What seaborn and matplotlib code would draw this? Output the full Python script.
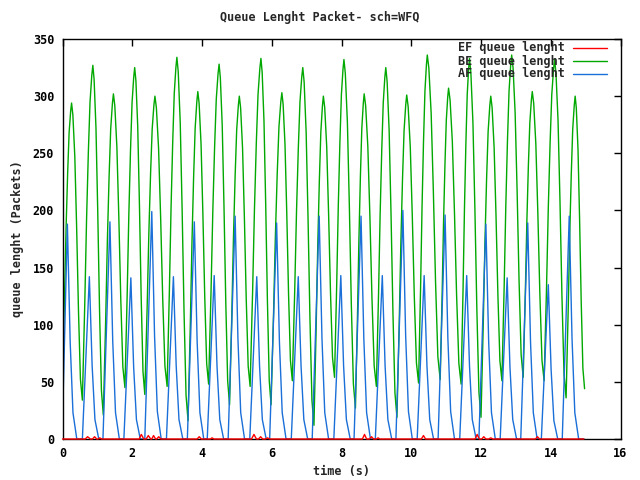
import numpy as np
import pandas as pd
import matplotlib
matplotlib.use("Agg")
import matplotlib.pyplot as plt
import seaborn as sns

# ---------------- data ----------------
title = "Queue Lenght Packet- sch=WFQ"
x_label = "time (s)"
y_label = "queue lenght (Packets)"
x_ticks = [0, 2, 4, 6, 8, 10, 12, 14, 16]
y_ticks = [0, 50, 100, 150, 200, 250, 300, 350]

# EF queue (red): small bumps near zero
ef_t = [0.0, 0.65, 0.72, 0.80, 0.86, 0.92, 0.98, 1.02, 1.07, 1.12, 2.20, 2.26, 2.33, 2.40, 2.46,
        2.53, 2.56, 2.61, 2.67, 2.70, 2.76, 2.82, 3.86, 3.92, 3.98, 4.24, 4.29, 4.34, 5.42, 5.49,
        5.56, 5.62, 5.68, 5.74, 5.82, 5.88, 5.94, 8.60, 8.66, 8.72, 8.80, 8.86, 8.92, 9.00, 9.05,
        9.10, 10.29, 10.35, 10.41, 11.83, 11.89, 11.95, 12.02, 12.08, 12.14, 12.22, 12.28, 12.34,
        13.56, 13.62, 13.68, 14.95]
ef_v = [0, 0, 2, 0, 0, 2, 0, 0, 1, 0, 0, 4, 0, 0, 3,
        0, 0, 3, 0, 0, 2, 0, 0, 2, 0, 0, 1, 0, 0, 4,
        0, 0, 2, 0, 0, 1, 0, 0, 4, 0, 0, 2, 0, 0, 1,
        0, 0, 3, 0, 0, 4, 0, 0, 2, 0, 0, 1, 0,
        0, 2, 0, 0]

# BE queue (green): start, alternating peaks / troughs, end
be_start = (0.0, 60)
be_peak_t = [0.26, 0.87, 1.46, 2.07, 2.65, 3.28, 3.88, 4.49, 5.07, 5.69, 6.29, 6.89, 7.48,
             8.07, 8.65, 9.27, 9.87, 10.46, 11.07, 11.67, 12.28, 12.88, 13.47, 14.11, 14.70]
be_peak_v = [294, 327, 302, 325, 300, 334, 304, 328, 300, 333, 303, 325, 300,
             332, 302, 325, 301, 336, 307, 333, 300, 336, 304, 332, 300]
be_trough_t = [0.57, 1.17, 1.79, 2.36, 3.00, 3.60, 4.19, 4.79, 5.38, 5.98, 6.59, 7.21,
               7.80, 8.40, 9.00, 9.59, 10.21, 10.83, 11.43, 12.00, 12.60, 13.21, 13.81, 14.44]
be_trough_v = [34, 21, 45, 39, 46, 16, 48, 30, 46, 30, 51, 12,
               54, 27, 46, 19, 49, 52, 48, 19, 51, 54, 51, 36]
be_end = (14.97, 44)
# shape of one rise (trough -> peak) and one fall (peak -> trough), read off a cycle:
# fraction of the segment's duration, fraction of the segment's height covered
be_rise_tf = [0.23, 0.40, 0.57, 0.73, 0.90]
be_rise_vf = [0.29, 0.54, 0.74, 0.89, 0.97]
be_fall_tf = [0.12, 0.30, 0.47, 0.64, 0.82]
be_fall_vf = [0.04, 0.18, 0.42, 0.70, 0.93]

# AF queue (blue): per cycle rise start, peak, two decay points, back to 0
af_rise_t = [0.00, 0.57, 1.16, 1.76, 2.36, 2.98, 3.58, 4.15, 4.75, 5.37, 5.94, 6.56, 7.16,
             7.78, 8.36, 8.97, 9.56, 10.17, 10.77, 11.39, 11.94, 12.55, 13.14, 13.73, 14.33]
af_rise_v = [15, 0, 0, 0, 0, 0, 0, 0, 0, 0, 0, 0, 0,
             0, 0, 0, 0, 0, 0, 0, 0, 0, 0, 0, 0]
af_peak_t = [0.14, 0.77, 1.36, 1.96, 2.56, 3.18, 3.78, 4.35, 4.95, 5.57, 6.14, 6.76, 7.36,
             7.98, 8.56, 9.17, 9.76, 10.37, 10.97, 11.59, 12.14, 12.75, 13.34, 13.93, 14.53]
af_peak_v = [188, 142, 190, 141, 199, 142, 190, 143, 195, 142, 189, 142, 195,
             143, 195, 143, 200, 143, 196, 143, 188, 141, 189, 135, 195]
af_k1_t = [0.22, 0.85, 1.44, 2.04, 2.64, 3.26, 3.86, 4.43, 5.03, 5.65, 6.22, 6.84, 7.44,
           8.06, 8.64, 9.25, 9.84, 10.45, 11.05, 11.67, 12.22, 12.83, 13.42, 14.01, 14.61]
af_k1_v = [85, 64, 86, 63, 90, 64, 86, 64, 88, 64, 85, 64, 88,
           64, 88, 64, 90, 64, 88, 64, 85, 63, 85, 61, 88]
af_k2_t = [0.30, 0.93, 1.52, 2.12, 2.72, 3.34, 3.94, 4.51, 5.11, 5.73, 6.30, 6.92, 7.52,
           8.14, 8.72, 9.33, 9.92, 10.53, 11.13, 11.75, 12.30, 12.91, 13.50, 14.09, 14.69]
af_k2_v = [23, 17, 23, 17, 24, 17, 23, 17, 23, 17, 23, 17, 23,
           17, 23, 17, 24, 17, 24, 17, 23, 17, 23, 16, 23]
af_zero_t = [0.41, 1.04, 1.63, 2.23, 2.83, 3.45, 4.05, 4.62, 5.22, 5.84, 6.41, 7.03, 7.63,
             8.25, 8.83, 9.44, 10.03, 10.64, 11.24, 11.86, 12.41, 13.02, 13.61, 14.20, 14.80]
af_end = (14.95, 0)

series_names = ["EF queue lenght", "BE queue lenght", "AF queue lenght"]
series_colors = ["#ff0000", "#00a800", "#1a6fd8"]

# ---------------- assemble vertex tables ----------------
be_nodes = [be_start]
for i in range(len(be_peak_t)):
    be_nodes.append((be_peak_t[i], be_peak_v[i]))
    if i < len(be_trough_t):
        be_nodes.append((be_trough_t[i], be_trough_v[i]))
be_nodes.append(be_end)

be_t, be_v = [be_nodes[0][0]], [be_nodes[0][1]]
for (t0, v0), (t1, v1) in zip(be_nodes[:-1], be_nodes[1:]):
    rising = v1 > v0
    tf = be_rise_tf if rising else be_fall_tf
    vf = be_rise_vf if rising else be_fall_vf
    for a, b in zip(tf, vf):
        be_t.append(t0 + a * (t1 - t0))
        be_v.append(v0 + b * (v1 - v0))
    be_t.append(t1); be_v.append(v1)

af_t, af_v = [], []
for i in range(len(af_peak_t)):
    af_t += [af_rise_t[i], af_peak_t[i], af_k1_t[i], af_k2_t[i], af_zero_t[i]]
    af_v += [af_rise_v[i], af_peak_v[i], af_k1_v[i], af_k2_v[i], 0]
af_t.append(af_end[0]); af_v.append(af_end[1])

df = pd.concat([
    pd.DataFrame({"t": ef_t, "v": ef_v, "s": series_names[0]}),
    pd.DataFrame({"t": be_t, "v": be_v, "s": series_names[1]}),
    pd.DataFrame({"t": af_t, "v": af_v, "s": series_names[2]}),
], ignore_index=True)

# ---------------- plot ----------------
sns.set_theme(style="white")
plt.rcParams["font.family"] = ["DejaVu Sans Mono"]
plt.rcParams["font.weight"] = "bold"

fig = plt.figure(figsize=(6.4, 4.8), dpi=100)
ax = fig.add_axes([62.5 / 640, 1 - 439 / 480, 558 / 640, 400 / 480])

sns.lineplot(data=df, x="t", y="v", hue="s", hue_order=series_names,
             palette=series_colors, estimator=None, sort=False,
             linewidth=1.0, ax=ax, legend=False)

# keep the red EF trace visible along the baseline, above the axis frame
for ln in ax.get_lines():
    if ln.get_label() == series_names[0] or np.allclose(
            matplotlib.colors.to_rgb(ln.get_color()), (1, 0, 0)):
        ln.set_zorder(3)
        ln.set_clip_on(False)

ax.set_xlim(0, 16)
ax.set_ylim(0, 350)
ax.set_xticks(x_ticks)
ax.set_yticks(y_ticks)
ax.tick_params(direction="in", length=5, width=1, top=True, right=True,
               labelsize=8.5, colors="black", pad=6)
for lab in ax.get_xticklabels() + ax.get_yticklabels():
    lab.set_fontweight("bold")
for sp in ax.spines.values():
    sp.set_visible(True)
    sp.set_color("black")
    sp.set_linewidth(1.0)

ax.set_xlabel(x_label, fontsize=8.5, fontweight="bold", labelpad=3)
ax.set_ylabel(y_label, fontsize=8.5, fontweight="bold", labelpad=6)
fig.text(0.5, 1 - 18 / 480, title, ha="center", va="center",
         fontsize=8.5, fontweight="bold")

# legend (gnuplot style, top-right, text right-aligned before sample line)
for i, (name, col) in enumerate(zip(series_names, series_colors)):
    y = 1 - (48 + 13 * i) / 480
    fig.text(565 / 640, y, name, ha="right", va="center", fontsize=8.5,
             fontweight="bold")
    fig.add_artist(plt.Line2D([573 / 640, 607 / 640], [y, y], color=col, lw=1.0))

fig.savefig("out.png", dpi=100, facecolor="white")
